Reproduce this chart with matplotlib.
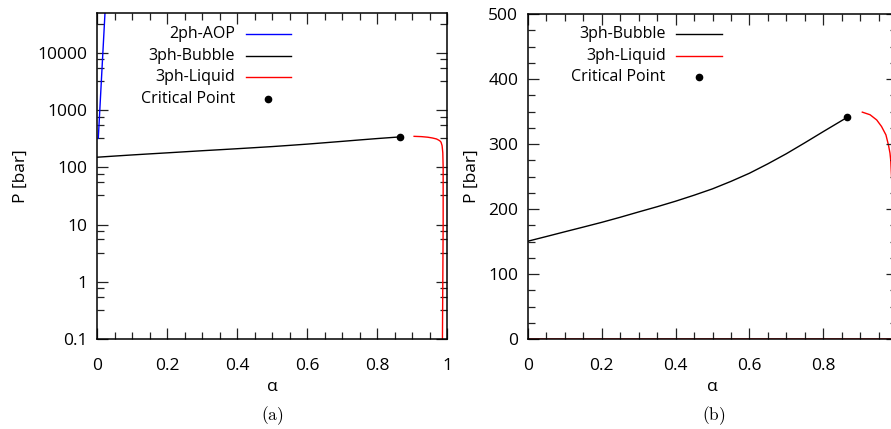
import matplotlib.pyplot as plt
from matplotlib.ticker import FixedLocator, LogLocator, MultipleLocator, FuncFormatter, NullFormatter
from matplotlib.lines import Line2D

# three-phase bubble line (alpha, P in bar)
alpha_bubble = [0.0, 0.05, 0.1, 0.15, 0.2, 0.25, 0.3, 0.35, 0.4, 0.45, 0.5,
                0.55, 0.6, 0.65, 0.7, 0.75, 0.8, 0.865]
p_bubble = [150.5, 157.7, 165, 172.2, 179.5, 187.3, 195.5, 203.5, 212, 221.2, 231,
            242.5, 255, 269.5, 285, 301.8, 319, 341]

# three-phase liquid line
alpha_liquid = [0.906, 0.927, 0.945, 0.958, 0.970, 0.977, 0.981, 0.983, 0.986,
                0.988, 0.989, 0.989, 0.988, 0.987, 0.986, 0.0]
p_liquid = [349, 345, 337, 327, 314, 298, 286, 275, 240,
            180, 100, 10, 1, 0.1, 0.001, 0.001]

# two-phase AOP line
alpha_aop = [0.0037, 0.008, 0.013, 0.018, 0.023, 0.026]
p_aop = [324, 1000, 3760, 14000, 52500, 115000]

# critical point
alpha_cp = [0.865]
p_cp = [341]

log_ticks = [0.1, 1, 10, 100, 1000, 10000]

plt.rcParams['font.family'] = ['Open Sans', 'DejaVu Sans']
plt.rcParams['font.size'] = 12.5
plt.rcParams['mathtext.fontset'] = 'cm'

fig = plt.figure(figsize=(8.91, 4.29), dpi=100)
ax1 = fig.add_axes([97 / 891, 90 / 429, 350 / 891, 326 / 429])
ax2 = fig.add_axes([528 / 891, 90 / 429, 369 / 891, 325 / 429])

lw = 1.0
key_size = 11.5


def fmt(v, pos):
    return '%g' % v


def fmt_cut(v, pos):
    # the last label falls outside the figure
    return '' if v > 0.95 else '%g' % v


# (a) log scale
ax1.plot(alpha_aop, p_aop, color='#0000ff', lw=lw)
ax1.plot(alpha_bubble, p_bubble, color='black', lw=lw)
ax1.plot(alpha_liquid, p_liquid, color='#ff0000', lw=lw)
ax1.plot(alpha_cp, p_cp, 'o', color='black', ms=4.5)
ax1.set_yscale('log')
ax1.set_xlim(0, 1)
ax1.set_ylim(0.1, 5e4)
ax1.yaxis.set_major_locator(FixedLocator(log_ticks))
ax1.yaxis.set_major_formatter(FuncFormatter(fmt))
ax1.yaxis.set_minor_locator(LogLocator(base=10, subs=(3.25, 5.5, 7.75)))
ax1.yaxis.set_minor_formatter(NullFormatter())
ax1.xaxis.set_major_locator(MultipleLocator(0.2))
ax1.xaxis.set_minor_locator(MultipleLocator(0.05))
ax1.xaxis.set_major_formatter(FuncFormatter(fmt))

# (b) linear scale
ax2.plot(alpha_bubble, p_bubble, color='black', lw=lw)
ax2.plot(alpha_liquid, p_liquid, color='#ff0000', lw=lw, zorder=1.5)
ax2.plot(alpha_cp, p_cp, 'o', color='black', ms=4.5)
ax2.set_xlim(0, 1)
ax2.set_ylim(0, 500)
ax2.yaxis.set_major_locator(MultipleLocator(100))
ax2.yaxis.set_minor_locator(MultipleLocator(25))
ax2.xaxis.set_major_locator(MultipleLocator(0.2))
ax2.xaxis.set_minor_locator(MultipleLocator(0.05))
ax2.xaxis.set_major_formatter(FuncFormatter(fmt_cut))

for ax in (ax1, ax2):
    for s in ax.spines.values():
        s.set_linewidth(1.1)
        s.set_zorder(3)
    ax.tick_params(which='both', direction='in', top=True, right=True, width=0.9, color='#222222')
    ax.tick_params(which='major', length=8)
    ax.tick_params(which='minor', length=5)
    ax.tick_params(axis='x', which='both', pad=14)
    ax.tick_params(axis='y', which='both', pad=7)
    ax.set_xlabel('α', labelpad=3)
    ax.set_ylabel('P [bar]', labelpad=6)


def draw_key(ax, entries, x_text, x0, x1, ys):
    for (label, kind, color), y in zip(entries, ys):
        ax.text(x_text, y, label, transform=ax.transAxes, ha='right', va='center',
                fontsize=key_size)
        if kind == 'line':
            ax.add_line(Line2D([x0, x1], [y, y], transform=ax.transAxes, color=color, lw=lw))
        else:
            ax.add_line(Line2D([(x0 + x1) / 2], [y], transform=ax.transAxes, marker='o',
                               color=color, ms=4.5, ls='none'))


draw_key(ax1, [('2ph-AOP', 'line', '#0000ff'), ('3ph-Bubble', 'line', 'black'),
               ('3ph-Liquid', 'line', '#ff0000'), ('Critical Point', 'dot', 'black')],
         0.394, 0.425, 0.554, [0.935, 0.868, 0.803, 0.736])
draw_key(ax2, [('3ph-Bubble', 'line', 'black'), ('3ph-Liquid', 'line', '#ff0000'),
               ('Critical Point', 'dot', 'black')],
         0.373, 0.400, 0.525, [0.9375, 0.871, 0.806])

fig.text(272 / 891, 1 - 416 / 429, r'$\mathrm{(a)}$', ha='center', va='center', fontsize=12.5)
fig.text(714 / 891, 1 - 416 / 429, r'$\mathrm{(b)}$', ha='center', va='center', fontsize=12.5)

fig.savefig('out.png', dpi=100)
